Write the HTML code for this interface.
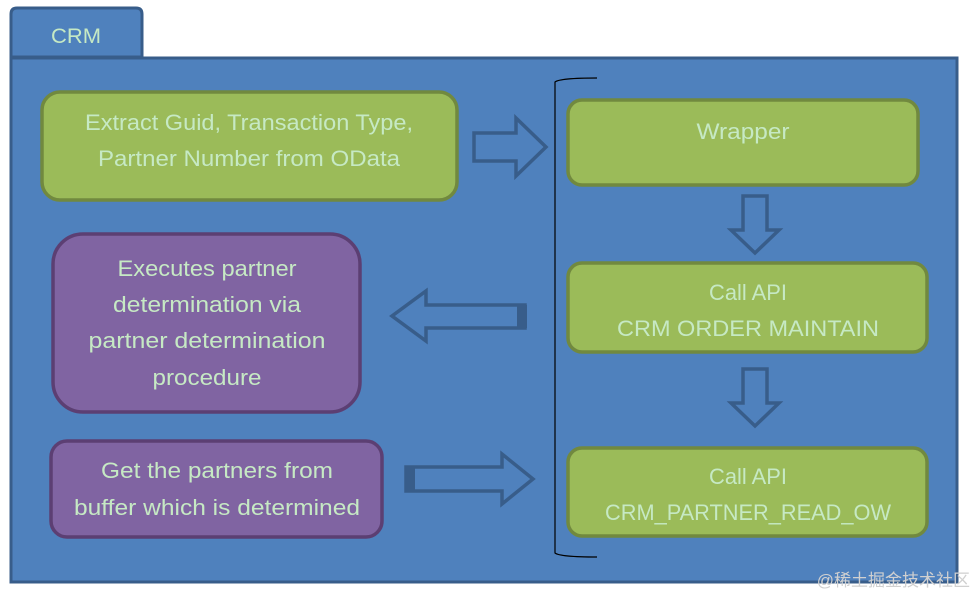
<!DOCTYPE html>
<html><head><style>body{margin:0;background:#fff}svg{display:block}</style></head><body>
<svg width="978" height="596" viewBox="0 0 978 596" xmlns="http://www.w3.org/2000/svg" font-family="Liberation Sans, sans-serif">
<path d="M11 57 V14 Q11 8 17 8 H136 Q142 8 142 14 V57 Z" fill="#4f81bd" stroke="#385d8a" stroke-width="3"/>
<text x="76" y="43" font-size="21" fill="#c6e9c4" text-anchor="middle" textLength="50" lengthAdjust="spacingAndGlyphs">CRM</text>
<rect x="11" y="58" width="946" height="524" fill="#4f81bd" stroke="#385d8a" stroke-width="3"/>
<g stroke="#71893f" stroke-width="3.5" fill="#9bbb59">
<rect x="42" y="92" width="415" height="108" rx="18"/>
<rect x="568" y="100" width="350" height="85" rx="14"/>
<rect x="568" y="263" width="359" height="89" rx="14"/>
<rect x="568" y="448" width="359" height="88" rx="14"/>
</g>
<g stroke="#5c3f73" stroke-width="3.5" fill="#8064a2">
<rect x="53" y="234" width="307" height="178" rx="30"/>
<rect x="51" y="441" width="331" height="96" rx="16"/>
</g>
<g font-size="22" fill="#c6e9c4" text-anchor="middle" lengthAdjust="spacingAndGlyphs">
<text x="249" y="130" textLength="328" lengthAdjust="spacingAndGlyphs">Extract Guid, Transaction Type,</text>
<text x="249" y="166" textLength="302" lengthAdjust="spacingAndGlyphs">Partner Number from OData</text>
<text x="743" y="139" textLength="93" lengthAdjust="spacingAndGlyphs">Wrapper</text>
<text x="748" y="300" textLength="78" lengthAdjust="spacingAndGlyphs">Call API</text>
<text x="748" y="336" textLength="262" lengthAdjust="spacingAndGlyphs">CRM  ORDER  MAINTAIN</text>
<text x="748" y="484" textLength="78" lengthAdjust="spacingAndGlyphs">Call API</text>
<text x="748" y="520" textLength="286" lengthAdjust="spacingAndGlyphs">CRM_PARTNER_READ_OW</text>
<text x="207" y="276" textLength="179" lengthAdjust="spacingAndGlyphs">Executes partner</text>
<text x="207" y="312" textLength="188" lengthAdjust="spacingAndGlyphs">determination via</text>
<text x="207" y="348" textLength="237" lengthAdjust="spacingAndGlyphs">partner determination</text>
<text x="207" y="385" textLength="109" lengthAdjust="spacingAndGlyphs">procedure</text>
<text x="217" y="478" textLength="232" lengthAdjust="spacingAndGlyphs">Get the partners from</text>
<text x="217" y="515" textLength="286" lengthAdjust="spacingAndGlyphs">buffer which is determined</text>
</g>
<path d="M597 78 Q560 78 555 82 V553 Q560 557 597 557" fill="none" stroke="#000" stroke-width="1.2"/>
<g fill="none" stroke="#385d8a" stroke-width="3.5">
<path d="M474 133 H516 V118 L546 147 L516 176 V161 H474 Z"/>
<path d="M743 196 H767 V230 H779 L755 253 L731 230 H743 Z"/>
<path d="M743 369 H767 V403 H779 L755 426 L731 403 H743 Z"/>
<path d="M525 305 H426 V291 L392 316 L426 341 V328 H525 Z"/>
<path d="M406 467 H502 V454 L533 479 L502 504 V491 H406 Z"/>
</g>
<rect x="517" y="305" width="10" height="23" fill="#385d8a"/>
<rect x="405" y="467" width="10" height="24" fill="#385d8a"/>
<text x="970" y="586" font-size="17" fill="#d0d0d0" text-anchor="end" font-family="Liberation Sans, Noto Sans CJK SC, sans-serif">@稀土掘金技术社区</text>
</svg>
</body></html>
